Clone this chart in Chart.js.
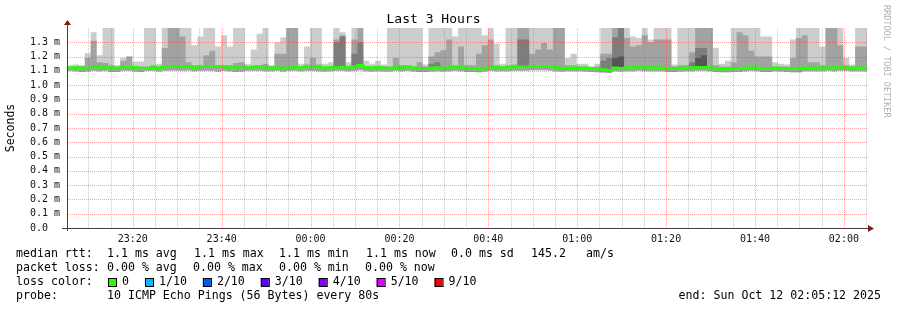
<!DOCTYPE html>
<html>
<head>
<meta charset="utf-8">
<title>Last 3 Hours</title>
<script src="https://cdn.jsdelivr.net/npm/chart.js@4.4.1/dist/chart.umd.min.js"></script>
<style>
  html, body { margin: 0; padding: 0; background: #fff; }
  #wrap { position: relative; width: 897px; height: 310px; }
</style>
</head>
<body>
<div id="wrap"><canvas id="smoke"></canvas></div>
<script>
// smokeping style graph, 3 hours, one sample every 80 s, values in ms
const STEP = 80;
const START = '23:05:12';
const SPAN = 3 * 3600;

const X_TICK_LABELS = ['23:20', '23:40', '00:00', '00:20', '00:40', '01:00', '01:20', '01:40', '02:00'];
const Y_TICK_LABELS = ['0.0', '0.1 m', '0.2 m', '0.3 m', '0.4 m', '0.5 m', '0.6 m', '0.7 m',
  '0.8 m', '0.9 m', '1.0 m', '1.1 m', '1.2 m', '1.3 m'];

// median rtt (green line)
const MEDIAN = [
  1.121, 1.124, 1.121, 1.117, 1.128, 1.126, 1.124, 1.121, 1.119, 1.128,
  1.124, 1.126, 1.114, 1.119, 1.124, 1.121, 1.128, 1.133, 1.133, 1.130,
  1.133, 1.121, 1.128, 1.128, 1.130, 1.133, 1.128, 1.124, 1.124, 1.128,
  1.124, 1.126, 1.130, 1.121, 1.121, 1.124, 1.119, 1.124, 1.126, 1.121,
  1.128, 1.130, 1.124, 1.121, 1.124, 1.124, 1.126, 1.126, 1.130, 1.140,
  1.124, 1.121, 1.124, 1.121, 1.119, 1.124, 1.121, 1.128, 1.121, 1.114,
  1.117, 1.121, 1.124, 1.119, 1.124, 1.128, 1.124, 1.117, 1.117, 1.112,
  1.119, 1.124, 1.124, 1.124, 1.124, 1.126, 1.128, 1.128, 1.133, 1.133,
  1.133, 1.133, 1.124, 1.119, 1.121, 1.121, 1.121, 1.121, 1.117, 1.114,
  1.110, 1.105, 1.121, 1.119, 1.121, 1.121, 1.128, 1.124, 1.121, 1.124,
  1.121, 1.117, 1.117, 1.119, 1.121, 1.121, 1.126, 1.126, 1.124, 1.117,
  1.112, 1.112, 1.114, 1.117, 1.121, 1.124, 1.121, 1.114, 1.114, 1.121,
  1.119, 1.117, 1.114, 1.114, 1.121, 1.121, 1.121, 1.121, 1.124, 1.121,
  1.124, 1.124, 1.121, 1.121, 1.121
];

// lowest ping of each sample (bottom of the smoke)
const LOW = [
  1.100, 1.098, 1.092, 1.095, 1.100, 1.098, 1.100, 1.092, 1.092, 1.100,
  1.100, 1.095, 1.092, 1.100, 1.100, 1.095, 1.100, 1.102, 1.102, 1.100,
  1.102, 1.098, 1.100, 1.100, 1.100, 1.095, 1.100, 1.098, 1.092, 1.095,
  1.100, 1.100, 1.100, 1.098, 1.098, 1.100, 1.095, 1.100, 1.100, 1.098,
  1.100, 1.100, 1.098, 1.095, 1.098, 1.100, 1.100, 1.098, 1.100, 1.105,
  1.098, 1.095, 1.098, 1.095, 1.095, 1.100, 1.098, 1.100, 1.095, 1.092,
  1.092, 1.095, 1.098, 1.095, 1.098, 1.100, 1.098, 1.092, 1.092, 1.090,
  1.095, 1.100, 1.098, 1.098, 1.098, 1.100, 1.100, 1.100, 1.105, 1.105,
  1.105, 1.102, 1.098, 1.095, 1.098, 1.098, 1.098, 1.095, 1.092, 1.090,
  1.088, 1.085, 1.098, 1.095, 1.098, 1.098, 1.100, 1.098, 1.098, 1.098,
  1.098, 1.092, 1.092, 1.095, 1.098, 1.098, 1.100, 1.100, 1.098, 1.092,
  1.090, 1.090, 1.092, 1.092, 1.098, 1.100, 1.098, 1.092, 1.092, 1.098,
  1.095, 1.092, 1.090, 1.090, 1.098, 1.098, 1.098, 1.098, 1.100, 1.098,
  1.100, 1.100, 1.098, 1.098, 1.098
];

// highest ping (light smoke), 1.45 = off the top of the graph
const LIGHT_TOP = [
  1.14, 1.145, 1.14, 1.224, 1.37, 1.21, 1.45, 1.45, 1.14, 1.19,
  1.20, 1.166, 1.166, 1.45, 1.45, 1.15, 1.45, 1.45, 1.45, 1.45,
  1.45, 1.28, 1.34, 1.45, 1.45, 1.27, 1.35, 1.27, 1.45, 1.45,
  1.15, 1.25, 1.36, 1.45, 1.14, 1.30, 1.335, 1.45, 1.45, 1.15,
  1.27, 1.45, 1.45, 1.15, 1.16, 1.45, 1.37, 1.16, 1.45, 1.45,
  1.17, 1.15, 1.17, 1.145, 1.45, 1.45, 1.45, 1.45, 1.45, 1.45,
  1.145, 1.45, 1.45, 1.45, 1.45, 1.34, 1.45, 1.45, 1.45, 1.45,
  1.35, 1.45, 1.29, 1.15, 1.45, 1.45, 1.45, 1.45, 1.45, 1.45,
  1.45, 1.45, 1.45, 1.45, 1.19, 1.22, 1.15, 1.15, 1.13, 1.15,
  1.45, 1.45, 1.45, 1.45, 1.45, 1.34, 1.33, 1.45, 1.32, 1.45,
  1.45, 1.45, 1.145, 1.45, 1.45, 1.45, 1.45, 1.45, 1.45, 1.26,
  1.15, 1.17, 1.45, 1.45, 1.45, 1.45, 1.45, 1.34, 1.34, 1.16,
  1.15, 1.145, 1.32, 1.45, 1.45, 1.45, 1.45, 1.27, 1.45, 1.45,
  1.45, 1.19, 1.145, 1.45, 1.45
];

// second ping from the top (medium smoke)
const MID_TOP = [
  1.13, 1.13, 1.13, 1.19, 1.31, 1.16, 1.155, 1.14, 1.13, 1.17,
  1.20, 1.13, 1.13, 1.13, 1.14, 1.13, 1.26, 1.45, 1.45, 1.34,
  1.16, 1.14, 1.14, 1.21, 1.24, 1.14, 1.14, 1.14, 1.155, 1.16,
  1.13, 1.14, 1.14, 1.15, 1.13, 1.22, 1.22, 1.45, 1.45, 1.13,
  1.145, 1.19, 1.145, 1.13, 1.13, 1.32, 1.35, 1.13, 1.32, 1.45,
  1.13, 1.13, 1.135, 1.13, 1.13, 1.19, 1.14, 1.14, 1.13, 1.16,
  1.13, 1.20, 1.23, 1.245, 1.32, 1.14, 1.27, 1.14, 1.14, 1.22,
  1.28, 1.32, 1.14, 1.13, 1.14, 1.145, 1.45, 1.45, 1.22, 1.25,
  1.295, 1.25, 1.45, 1.45, 1.14, 1.14, 1.13, 1.13, 1.125, 1.13,
  1.22, 1.22, 1.45, 1.45, 1.33, 1.27, 1.28, 1.35, 1.30, 1.32,
  1.32, 1.32, 1.13, 1.14, 1.14, 1.23, 1.45, 1.45, 1.45, 1.14,
  1.13, 1.13, 1.16, 1.37, 1.35, 1.24, 1.20, 1.20, 1.20, 1.13,
  1.13, 1.13, 1.19, 1.33, 1.35, 1.16, 1.16, 1.14, 1.45, 1.45,
  1.28, 1.14, 1.13, 1.27, 1.27
];

// dark smoke, null where it is not visible
const DARK_TOP = [
  null, null, null, null, null, null, null, null, null, null,
  null, null, null, null, null, null, null, null, null, null,
  null, null, null, null, null, null, null, null, null, null,
  null, null, null, null, null, null, null, null, null, null,
  null, null, null, null, null, 1.30, 1.34, null, 1.22, 1.30,
  null, null, null, null, null, null, null, null, null, null,
  null, 1.15, 1.16, null, null, null, null, null, null, null,
  null, null, null, null, null, null, 1.32, 1.32, null, null,
  null, null, null, null, null, null, null, null, null, null,
  1.17, 1.19, 1.335, 1.45, null, null, null, null, null, null,
  null, null, null, null, null, 1.16, 1.26, 1.26, null, null,
  null, null, null, null, null, null, null, null, null, null,
  null, null, null, null, null, null, null, null, null, null,
  null, null, null, null, null
];

// darkest smoke, next to the median
const DARKEST_TOP = [
  null, null, null, null, null, null, null, null, null, null,
  null, null, null, null, null, null, null, null, null, null,
  null, null, null, null, null, null, null, null, null, null,
  null, null, null, null, null, null, null, null, null, null,
  null, null, null, null, null, null, null, null, null, null,
  null, null, null, null, null, null, null, null, null, null,
  null, null, null, null, null, null, null, null, null, null,
  null, null, null, null, null, null, null, null, null, null,
  null, null, null, null, null, null, null, null, null, null,
  null, null, 1.19, 1.20, null, null, null, null, null, null,
  null, null, null, null, null, null, 1.19, 1.21, null, null,
  null, null, null, null, null, null, null, null, null, null,
  null, null, null, null, null, null, null, null, null, null,
  null, null, null, null, null
];

const LOSS_LABELS = ['0', '1/10', '2/10', '3/10', '4/10', '5/10', '9/10'];
const LOSS_COLORS = ['#26ff00', '#00b8ff', '#0059ff', '#5e00ff', '#7e00ff', '#dd00ff', '#ff0000'];

const MONO = '"DejaVu Sans Mono", monospace';

function series(values) {
  const pts = values.map((v, i) => ({ x: i * STEP, y: v === null ? MEDIAN[i] : v }));
  pts.push({ x: values.length * STEP, y: pts[pts.length - 1].y });
  return pts;
}

function layer(values, color, target) {
  return {
    data: series(values),
    stepped: true,
    borderWidth: 0,
    borderColor: 'rgba(0,0,0,0)',
    backgroundColor: color,
    pointRadius: 0,
    fill: target
  };
}

const [sh, sm, ss] = START.split(':').map(Number);
const startSec = sh * 3600 + sm * 60 + ss;
const firstTick = Math.ceil(startSec / 300) * 300 - startSec;

function clock(v) {
  const t = Math.round(startSec + v) % 86400;
  const h = Math.floor(t / 3600), m = Math.floor(t / 60) % 60;
  return String(h).padStart(2, '0') + ':' + String(m).padStart(2, '0');
}

const MAJOR = 'rgba(255,40,40,0.42)';
const MINOR = 'rgba(120,120,120,0.40)';

// dotted rrdtool grid, drawn over the smoke
const dottedGrid = {
  id: 'dottedGrid',
  afterDatasetsDraw(chart) {
    const { ctx, chartArea: a, scales } = chart;
    const top = Math.round(a.top), bottom = Math.round(a.bottom);
    const left = Math.round(a.left), right = Math.round(a.right);
    ctx.save();
    scales.x.ticks.forEach(t => {
      const px = Math.round(scales.x.getPixelForValue(t.value));
      if (px <= left || px >= right) return;
      ctx.fillStyle = X_TICK_LABELS.includes(clock(t.value)) ? MAJOR : MINOR;
      for (let y = top; y < bottom; y += 2) ctx.fillRect(px, y, 1, 1);
    });
    ctx.fillStyle = MAJOR;
    scales.y.ticks.forEach(t => {
      const i = Math.round(t.value * 10);
      if (i <= 0 || i >= 14) return;
      const py = Math.round(scales.y.getPixelForValue(t.value));
      for (let x = left + 1; x < right; x += 2) ctx.fillRect(x, py, 1, 1);
    });
    ctx.restore();
  }
};

// text under the graph, axes arrows, watermark
const frame = {
  id: 'frame',
  afterDraw(chart) {
    const { ctx, chartArea: a } = chart;
    const left = Math.round(a.left), bottom = Math.round(a.bottom);
    const top = Math.round(a.top), right = Math.round(a.right);
    ctx.save();
    ctx.strokeStyle = '#404040';
    ctx.lineWidth = 1;
    ctx.beginPath();
    ctx.moveTo(left - 5, bottom + 0.5);
    ctx.lineTo(right + 2, bottom + 0.5);
    ctx.moveTo(left + 0.5, bottom + 3);
    ctx.lineTo(left + 0.5, top - 3);
    ctx.stroke();

    ctx.fillStyle = '#801818';
    ctx.beginPath();
    ctx.moveTo(right + 1, bottom - 3);
    ctx.lineTo(right + 7, bottom + 0.5);
    ctx.lineTo(right + 1, bottom + 4);
    ctx.closePath();
    ctx.fill();
    ctx.beginPath();
    ctx.moveTo(left - 3, top - 3);
    ctx.lineTo(left + 0.5, top - 8);
    ctx.lineTo(left + 4, top - 3);
    ctx.closePath();
    ctx.fill();

    ctx.fillStyle = '#000';
    ctx.font = '11.6px ' + MONO;
    ctx.textBaseline = 'middle';
    const rows = [
      [254, [[16, 'median rtt:'], [107, '1.1 ms avg'], [194, '1.1 ms max'], [279, '1.1 ms min'],
        [366, '1.1 ms now'], [451, '0.0 ms sd'], [531, '145.2'], [586, 'am/s']]],
      [268, [[16, 'packet loss:'], [107, '0.00 % avg'], [193, '0.00 % max'], [279, '0.00 % min'],
        [365, '0.00 % now']]],
      [296, [[16, 'probe:'], [107, '10 ICMP Echo Pings (56 Bytes) every 80s']]]
    ];
    rows.forEach(([y, items]) => items.forEach(([x, s]) => ctx.fillText(s, x, y)));

    ctx.fillText('loss color:', 16, 282);
    let x = 108;
    LOSS_LABELS.forEach((lab, i) => {
      ctx.fillStyle = LOSS_COLORS[i];
      ctx.fillRect(x, 278, 8, 8);
      ctx.strokeStyle = '#000';
      ctx.strokeRect(x + 0.5, 278.5, 8, 8);
      ctx.fillStyle = '#000';
      ctx.fillText(lab, x + 14, 282);
      x = x + 14 + ctx.measureText(lab).width + 16;
    });

    ctx.textAlign = 'right';
    ctx.fillText('end: Sun Oct 12 02:05:12 2025', 881, 296);

    ctx.translate(886, 5);
    ctx.rotate(Math.PI / 2);
    ctx.textAlign = 'left';
    ctx.fillStyle = '#b0b0b0';
    ctx.font = '8.5px ' + MONO;
    ctx.fillText('RRDTOOL / TOBI OETIKER', 0, 0);
    ctx.restore();
  }
};

new Chart(document.getElementById('smoke'), {
  type: 'line',
  data: {
    datasets: [
      {
        data: series(MEDIAN),
        stepped: true,
        borderColor: '#22ff00',
        borderWidth: 2.5,
        pointRadius: 0,
        fill: false
      },
      layer(DARKEST_TOP, '#555555', 0),
      layer(DARK_TOP, '#7d7d7d', 0),
      layer(MID_TOP, '#a2a2a2', 5),
      layer(LIGHT_TOP, '#cccccc', 5),
      { data: series(LOW), stepped: true, borderWidth: 0, pointRadius: 0, fill: false }
    ]
  },
  options: {
    responsive: true,
    maintainAspectRatio: false,
    devicePixelRatio: 1,
    animation: false,
    layout: { padding: { top: 0, right: 30, left: 0, bottom: 0 } },
    plugins: {
      legend: { display: false },
      tooltip: { enabled: false },
      title: {
        display: true,
        text: 'Last 3 Hours',
        color: '#000',
        font: { family: MONO, size: 13, lineHeight: 1.2, weight: 'normal' },
        padding: { top: 11.4, bottom: 1 }
      }
    },
    scales: {
      x: {
        type: 'linear',
        min: 0,
        max: SPAN,
        afterBuildTicks(scale) {
          const t = [];
          for (let s = firstTick; s <= SPAN; s += 300) t.push({ value: s });
          scale.ticks = t;
        },
        afterFit(scale) { scale.height = 82; },
        ticks: {
          autoSkip: false,
          maxRotation: 0,
          padding: 5,
          color: '#111',
          font: { family: MONO, size: 10 },
          callback(v) {
            const lab = clock(v);
            return X_TICK_LABELS.includes(lab) ? lab : '';
          }
        },
        grid: { display: false, drawTicks: false },
        border: { display: false }
      },
      y: {
        min: 0,
        max: 1.4,
        afterBuildTicks(scale) {
          scale.ticks = Y_TICK_LABELS.map((_, i) => ({ value: i / 10 }));
        },
        afterFit(scale) { scale.width = 67; },
        ticks: {
          autoSkip: false,
          padding: 7,
          color: '#111',
          font: { family: MONO, size: 10 },
          callback(v) {
            const lab = Y_TICK_LABELS[Math.round(v * 10)];
            return lab === undefined ? '' : lab.padEnd(5, ' ');
          }
        },
        grid: { display: false, drawTicks: false },
        border: { display: false },
        title: {
          display: true,
          text: 'Seconds',
          color: '#000',
          font: { family: MONO, size: 11.5, lineHeight: 1.2 },
          padding: { top: 4, bottom: 0 }
        }
      }
    }
  },
  plugins: [dottedGrid, frame]
});
</script>
</body>
</html>
